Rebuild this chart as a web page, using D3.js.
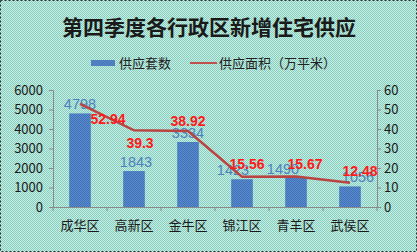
<!DOCTYPE html>
<html>
<head>
<meta charset="utf-8">
<script src="https://cdn.jsdelivr.net/npm/d3@7"></script>
<style>
  html, body { margin: 0; padding: 0; background: #fff; }
  svg { display: block; font-family: "Noto Sans CJK SC", "Noto Sans", sans-serif; }
</style>
</head>
<body>
<div id="viz"></div>
<script>
var districts = ["成华区", "高新区", "金牛区", "锦江区", "青羊区", "武侯区"]
var units = [4798, 1843, 3334, 1423, 1490, 1056]
var area = [52.94, 39.3, 38.92, 15.56, 15.67, 12.48]
var leftTicks = [0, 1000, 2000, 3000, 4000, 5000, 6000]
var rightTicks = [0, 10, 20, 30, 40, 50, 60]

// label nudges (dx, dy) to mimic the excel placement
var areaLabelShift = [[28, 20], [6, 18], [0, -5], [5, -8], [9, -7], [10, -7]]
var unitLabelShift = [[0, 0], [2, 0], [0, 0], [-9, 0], [-13, 0], [8, 0]]

var width = 417,
  height = 252,
  margin = {left: 53, right: 40, top: 90, bottom: 45}

var svg = d3.select("#viz").append("svg")
  .attr("width", width)
  .attr("height", height)

var defs = svg.append("defs")
var bg = defs.append("pattern").attr("id", "bgpat")
  .attr("width", 2).attr("height", 2).attr("patternUnits", "userSpaceOnUse")
bg.append("rect").attr("width", 2).attr("height", 2).attr("fill", "#c9ece4")
bg.append("rect").attr("width", 1).attr("height", 1).attr("fill", "#84cfbd")
bg.append("rect").attr("x", 1).attr("y", 1).attr("width", 1).attr("height", 1).attr("fill", "#84cfbd")

var bp = defs.append("pattern").attr("id", "barpat")
  .attr("width", 2).attr("height", 2).attr("patternUnits", "userSpaceOnUse")
bp.append("rect").attr("width", 2).attr("height", 2).attr("fill", "#5b8bcb")
bp.append("rect").attr("width", 1).attr("height", 1).attr("fill", "#3f72b8")
bp.append("rect").attr("x", 1).attr("y", 1).attr("width", 1).attr("height", 1).attr("fill", "#3f72b8")

svg.append("rect")
  .attr("width", width).attr("height", height)
  .attr("fill", "url(#bgpat)")

svg.append("rect")
  .attr("x", 0.5).attr("y", 0.5)
  .attr("width", width - 1).attr("height", height - 1)
  .attr("fill", "none")
  .attr("stroke", "#333")
  .attr("stroke-dasharray", "2,2")

// title
svg.append("text")
  .attr("x", 209).attr("y", 35)
  .attr("text-anchor", "middle")
  .style("font-size", "21px")
  .style("font-weight", "bold")
  .attr("fill", "#1a1a1a")
  .text("第四季度各行政区新增住宅供应")

// legend
var legend = svg.append("g").style("font-size", "13px").attr("fill", "#222")
legend.append("rect").attr("x", 91).attr("y", 60).attr("width", 24).attr("height", 6).attr("fill", "#4f7fc0")
legend.append("text").attr("x", 119).attr("y", 68).text("供应套数")
legend.append("line").attr("x1", 190).attr("x2", 217).attr("y1", 63).attr("y2", 63)
  .attr("stroke", "#c0504d").attr("stroke-width", 2)
legend.append("text").attr("x", 219).attr("y", 68).text("供应面积（万平米）")

var x = d3.scaleBand()
  .domain(districts)
  .range([margin.left, width - margin.right])
  .paddingInner(0.6)
  .paddingOuter(0.3)

var y = d3.scaleLinear().domain([0, 6000]).range([height - margin.bottom, margin.top])
var y2 = d3.scaleLinear().domain([0, 60]).range([height - margin.bottom, margin.top])

// axes
var axisColor = "#8a8a8a"
var leftAxis = svg.append("g")
  .attr("transform", "translate(" + margin.left + ",0)")
  .call(d3.axisLeft(y).tickValues(leftTicks).tickFormat(d3.format("d")).tickSize(4).tickPadding(6))
var rightAxis = svg.append("g")
  .attr("transform", "translate(" + (width - margin.right) + ",0)")
  .call(d3.axisRight(y2).tickValues(rightTicks).tickSize(4).tickPadding(3))
var bottomAxis = svg.append("g")
  .attr("transform", "translate(0," + (height - margin.bottom) + ")")
  .call(d3.axisBottom(x).tickSize(0).tickPadding(14))

;[leftAxis, rightAxis, bottomAxis].forEach(function(a) {
  a.select(".domain").attr("stroke", axisColor)
  a.selectAll(".tick line").attr("stroke", axisColor)
  a.selectAll("text").attr("fill", "#1a1a1a")
    .style("font-family", "\"Noto Sans CJK SC\", sans-serif")
    .style("font-size", "13px")
})

// category separators on x axis
svg.append("g").selectAll("line")
  .data(d3.range(districts.length + 1))
  .enter().append("line")
  .attr("x1", function(i) { return margin.left + i * (width - margin.left - margin.right) / districts.length })
  .attr("x2", function(i) { return margin.left + i * (width - margin.left - margin.right) / districts.length })
  .attr("y1", height - margin.bottom)
  .attr("y2", height - margin.bottom + 4)
  .attr("stroke", axisColor)

// bars
svg.append("g").selectAll("rect")
  .data(units)
  .enter().append("rect")
  .attr("x", function(d, i) { return x(districts[i]) })
  .attr("width", x.bandwidth())
  .attr("y", function(d) { return y(d) })
  .attr("height", function(d) { return y(0) - y(d) })
  .attr("fill", "url(#barpat)")

svg.append("g").selectAll("text")
  .data(units)
  .enter().append("text")
  .attr("x", function(d, i) { return x(districts[i]) + x.bandwidth() / 2 + unitLabelShift[i][0] })
  .attr("y", function(d, i) { return y(d) - 4 + unitLabelShift[i][1] })
  .attr("text-anchor", "middle")
  .style("font-family", "\"Liberation Sans\", Arial, sans-serif")
  .style("font-size", "14.5px")
  .attr("fill", "#4f81bd")
  .text(function(d) { return d })

// line
var line = d3.line()
  .x(function(d, i) { return x(districts[i]) + x.bandwidth() / 2 })
  .y(function(d) { return y2(d) })

svg.append("path")
  .datum(area)
  .attr("d", line)
  .attr("fill", "none")
  .attr("stroke", "#b94442")
  .attr("stroke-width", 2.5)

svg.append("g").selectAll("text")
  .data(area)
  .enter().append("text")
  .attr("x", function(d, i) { return x(districts[i]) + x.bandwidth() / 2 + areaLabelShift[i][0] })
  .attr("y", function(d, i) { return y2(d) + areaLabelShift[i][1] })
  .attr("text-anchor", "middle")
  .style("font-family", "\"Liberation Sans\", Arial, sans-serif")
  .style("font-size", "14px")
  .style("font-weight", "bold")
  .attr("fill", "#ff1a1a")
  .text(function(d) { return d })
</script>
</body>
</html>
